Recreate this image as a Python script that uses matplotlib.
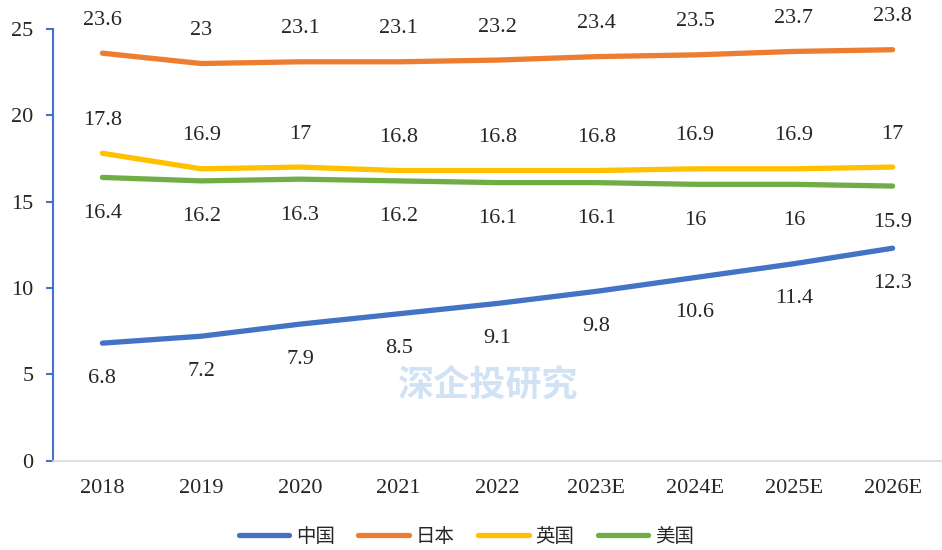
import matplotlib
matplotlib.use("Agg")
import matplotlib.pyplot as plt

years = ["2018", "2019", "2020", "2021", "2022", "2023E", "2024E", "2025E", "2026E"]
china = [6.8, 7.2, 7.9, 8.5, 9.1, 9.8, 10.6, 11.4, 12.3]
japan = [23.6, 23, 23.1, 23.1, 23.2, 23.4, 23.5, 23.7, 23.8]
uk = [17.8, 16.9, 17, 16.8, 16.8, 16.8, 16.9, 16.9, 17]
usa = [16.4, 16.2, 16.3, 16.2, 16.1, 16.1, 16, 16, 15.9]
y_ticks = [0, 5, 10, 15, 20, 25]

series = [
    ("中国", china, "#4472C4", -35),
    ("日本", japan, "#ED7D31", 33),
    ("英国", uk, "#FFC000", 33),
    ("美国", usa, "#70AD47", -36),
]

num_font = "Liberation Serif"
cjk = ["Noto Sans CJK SC", "DejaVu Sans"]
txt_color = "#262626"

fig = plt.figure(figsize=(9.42, 5.5), dpi=100)
ax = fig.add_axes([53 / 942, 1 - 460.5 / 550, 889 / 942, (460.5 - 29) / 550])

x = list(range(len(years)))
for name, vals, col, off in series:
    ax.plot(x, vals, color=col, lw=3.8, solid_capstyle="round", label=name, zorder=3)
    for xi, v in zip(x, vals):
        ax.annotate(f"{v:g}", (xi, v), xytext=(0, off), textcoords="offset pixels",
                    ha="center", va="center", fontsize=16, family=num_font,
                    color=txt_color, zorder=4)

# watermark (faint)
ax.text(0.49, 0.175, "深企投研究", transform=ax.transAxes, ha="center", va="center",
        fontsize=26, family=cjk, color="#BDD7EE", alpha=0.7, fontweight="bold",
        style="italic", zorder=1)

ax.set_xlim(-0.5, len(years) - 0.5)
ax.set_ylim(0, 25)
ax.set_xticks(x)
ax.set_xticklabels(years)
ax.set_yticks(y_ticks)

for s in ["top", "right"]:
    ax.spines[s].set_visible(False)
ax.spines["left"].set_color("#4472C4")
ax.spines["left"].set_linewidth(1.5)
ax.spines["bottom"].set_color("#D9D9D9")
ax.spines["bottom"].set_linewidth(1.2)

ax.tick_params(axis="y", direction="out", length=5, width=1.5, color="#4472C4",
               pad=9, labelsize=16, labelcolor=txt_color)
ax.tick_params(axis="x", length=0, pad=13, labelsize=16, labelcolor=txt_color)
for lab in ax.get_xticklabels() + ax.get_yticklabels():
    lab.set_family(num_font)

leg = fig.legend(loc="center", bbox_to_anchor=(0.495, 1 - 536 / 550), ncol=4, frameon=False,
                 prop={"family": cjk, "size": 14}, handlelength=2.6, handletextpad=0.35,
                 columnspacing=1.2)
for t in leg.get_texts():
    t.set_color(txt_color)

fig.savefig("out.png", dpi=100)
